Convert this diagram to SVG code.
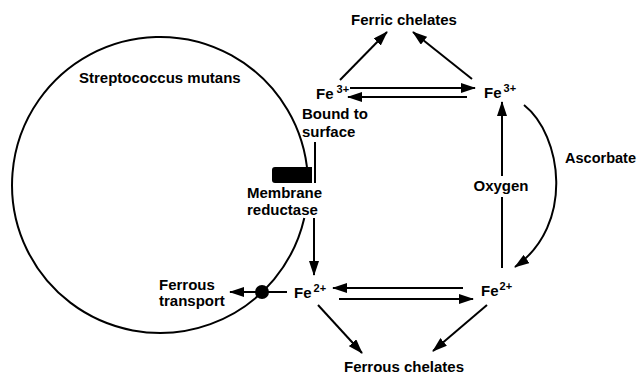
<svg xmlns="http://www.w3.org/2000/svg" width="639" height="374" viewBox="0 0 639 374">
<style>
.t{font-family:"Liberation Sans",Arial,sans-serif;font-weight:bold;font-size:15px;fill:#000}
.sup{font-size:11px}
.ln{stroke:#000;stroke-width:2;fill:none}
.ar{stroke:#000;stroke-width:2;fill:none;marker-end:url(#ah)}
</style>
<defs>
<marker id="ah" markerUnits="userSpaceOnUse" markerWidth="15" markerHeight="10" refX="14" refY="5" orient="auto">
<path d="M0,0 L15,5 L0,10 z" fill="#000"/>
</marker>
</defs>
<rect width="639" height="374" fill="#fff"/>
<g id="cell">
<path class="ln" d="M304.3 218 A148 148 0 1 1 307.7 175"/>
<text class="t" x="79" y="83">Streptococcus mutans</text>
</g>
<g id="membrane-reductase">
<path d="M275 167 L312 167 L312 183 L275 183 Q272 183 272 180 L272 170 Q272 167 275 167 z" fill="#000"/>
<text class="t" x="247" y="198">Membrane</text>
<text class="t" x="247" y="215">reductase</text>
</g>
<g id="fe3-bound">
<text class="t" x="316" y="99">Fe<tspan class="sup" dx="3" dy="-6">3+</tspan></text>
<text class="t" x="302" y="119">Bound to</text>
<text class="t" x="302" y="137">surface</text>
</g>
<g id="fe3-free">
<text class="t" x="484" y="98">Fe<tspan class="sup" dx="2" dy="-6">3+</tspan></text>
</g>
<g id="ferric-chelates">
<text class="t" x="404" y="25" text-anchor="middle">Ferric chelates</text>
</g>
<g id="fe2-left">
<text class="t" x="294" y="298">Fe<tspan class="sup" dx="2" dy="-6">2+</tspan></text>
</g>
<g id="fe2-right">
<text class="t" x="481" y="296">Fe<tspan class="sup" dx="1" dy="-6">2+</tspan></text>
</g>
<g id="ferrous-chelates">
<text class="t" x="344" y="372">Ferrous chelates</text>
</g>
<g id="ferrous-transport">
<circle cx="262" cy="292" r="7" fill="#000"/>
<text class="t" x="159" y="290">Ferrous</text>
<text class="t" x="159" y="306">transport</text>
</g>
<g id="labels">
<text class="t" x="501" y="191" text-anchor="middle">Oxygen</text>
<text class="t" x="636" y="163" text-anchor="end" style="font-size:14.5px">Ascorbate</text>
</g>
<g id="connectors">
<path class="ar" d="M340 80 L387 32"/>
<path class="ar" d="M472 79 L413 32"/>
<path class="ar" d="M350 88 L475 88"/>
<path class="ar" d="M467 97 L348 97"/>
<path class="ln" d="M502 268 L502 197"/>
<path class="ar" d="M502 176 L502 102"/>
<path class="ar" d="M524 105 C562 135 575 225 515 267"/>
<path class="ar" d="M463 288 L333 288"/>
<path class="ar" d="M339 299 L473 299"/>
<path class="ar" d="M318 305 L362 353"/>
<path class="ar" d="M487 305 L433 351"/>
<path class="ln" d="M315 142 L315 183"/>
<path class="ar" d="M314 218 L314 275"/>
<path class="ar" d="M287 292 L230 292"/>
</g>
</svg>
